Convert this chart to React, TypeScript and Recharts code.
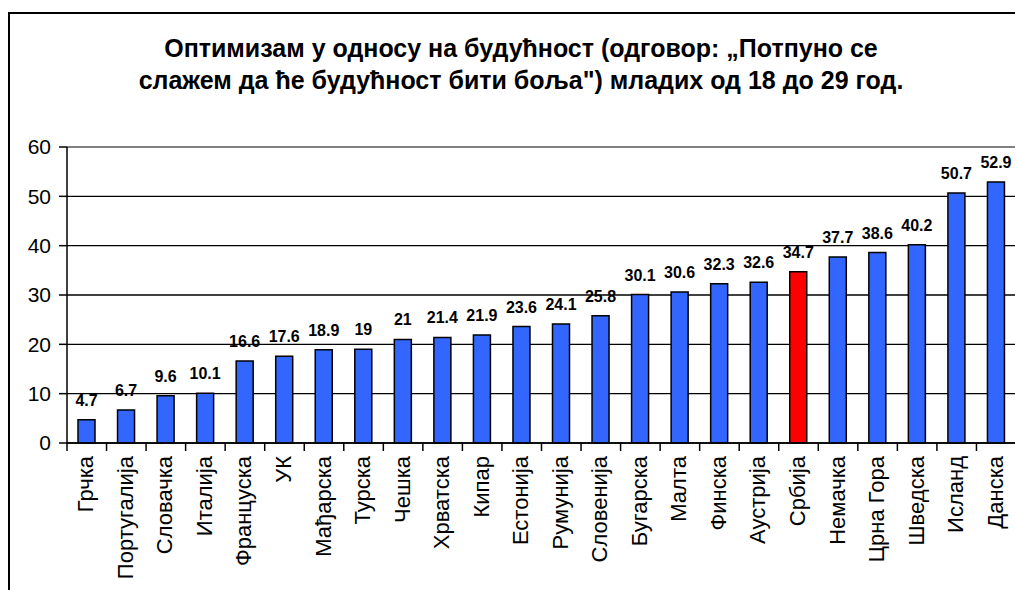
import { Bar, BarChart, CartesianGrid, Cell, LabelList, ReferenceLine, XAxis, YAxis } from "recharts";

const countries = [
  "Грчка", "Португалија", "Словачка", "Италија", "Француска", "УК", "Мађарска", "Турска",
  "Чешка", "Хрватска", "Кипар", "Естонија", "Румунија", "Словенија", "Бугарска", "Малта",
  "Финска", "Аустрија", "Србија", "Немачка", "Црна Гора", "Шведска", "Исланд", "Данска"
];
const values = [
  4.7, 6.7, 9.6, 10.1, 16.6, 17.6, 18.9, 19, 21, 21.4, 21.9, 23.6, 24.1, 25.8, 30.1, 30.6,
  32.3, 32.6, 34.7, 37.7, 38.6, 40.2, 50.7, 52.9
];
const highlighted = "Србија";
const yTicks = [0, 10, 20, 30, 40, 50, 60];

const data = countries.map((name, i) => ({ name, value: values[i] }));

const FONT = "Arial, 'Liberation Sans', sans-serif";
const BAND = 39.55;

function CountryTick(props: any) {
  const { x, y, payload, index } = props;
  const last = index === countries.length - 1;
  return (
    <g>
      <line x1={x - BAND / 2} x2={x - BAND / 2} y1={y - 8} y2={y} stroke="#000" strokeWidth={1.5} />
      {last && <line x1={x + BAND / 2} x2={x + BAND / 2} y1={y - 8} y2={y} stroke="#000" strokeWidth={1.5} />}
      <text
        x={0}
        y={0}
        transform={`translate(${x - 1},${y + 5}) rotate(-90)`}
        textAnchor="end"
        dominantBaseline="central"
        fontFamily={FONT}
        fontSize={22}
        fill="#000"
      >
        {payload.value}
      </text>
    </g>
  );
}

export default function App() {
  return (
    <div
      style={{
        position: "fixed",
        left: 0,
        top: 0,
        width: 1015,
        height: 590,
        overflow: "hidden",
        background: "#fff",
      }}
    >
      {/* frame of the chart area, only its left and top edges are visible */}
      <div
        style={{
          position: "absolute",
          left: 8,
          top: 12,
          width: 1100,
          height: 700,
          borderLeft: "2px solid #000",
          borderTop: "2px solid #000",
        }}
      />
      <div
        style={{
          position: "absolute",
          left: 8,
          top: 32,
          width: 1026,
          textAlign: "center",
          fontFamily: FONT,
          fontWeight: "bold",
          fontSize: 25,
          lineHeight: "32px",
          color: "#000",
          whiteSpace: "nowrap",
        }}
      >
        Оптимизам у односу на будућност (одговор: „Потпуно се
        <br />
        слажем да ће будућност бити боља") младих од 18 до 29 год.
      </div>
      <div style={{ position: "absolute", left: 8, top: 8 }}>
        <BarChart width={1010} height={582} data={data} margin={{ top: 139, right: 2, bottom: 0, left: 0 }}>
          <CartesianGrid vertical={false} stroke="#000" strokeWidth={1.3} />
          <ReferenceLine y={60} stroke="#808080" strokeWidth={2} />
          <XAxis
            dataKey="name"
            interval={0}
            height={147}
            tickSize={8}
            tickMargin={0}
            tickLine={false}
            axisLine={{ stroke: "#000", strokeWidth: 1.5 }}
            tick={<CountryTick />}
          />
          <YAxis
            width={59}
            domain={[0, 60]}
            ticks={yTicks}
            interval={0}
            tickSize={8}
            tickMargin={8}
            axisLine={{ stroke: "#000", strokeWidth: 1.5 }}
            tickLine={{ stroke: "#000", strokeWidth: 1.5 }}
            tick={{ fill: "#000", fontSize: 21, fontFamily: FONT }}
          />
          <Bar dataKey="value" barSize={17} stroke="#000" strokeWidth={1.5} isAnimationActive={false}>
            {data.map((d) => (
              <Cell key={d.name} fill={d.name === highlighted ? "#FF0000" : "#3366FF"} />
            ))}
            <LabelList
              dataKey="value"
              position="top"
              offset={14}
              fill="#000"
              fontSize={16}
              fontWeight="bold"
              fontFamily={FONT}
              formatter={(v: any) => String(v)}
            />
          </Bar>
        </BarChart>
      </div>
    </div>
  );
}
